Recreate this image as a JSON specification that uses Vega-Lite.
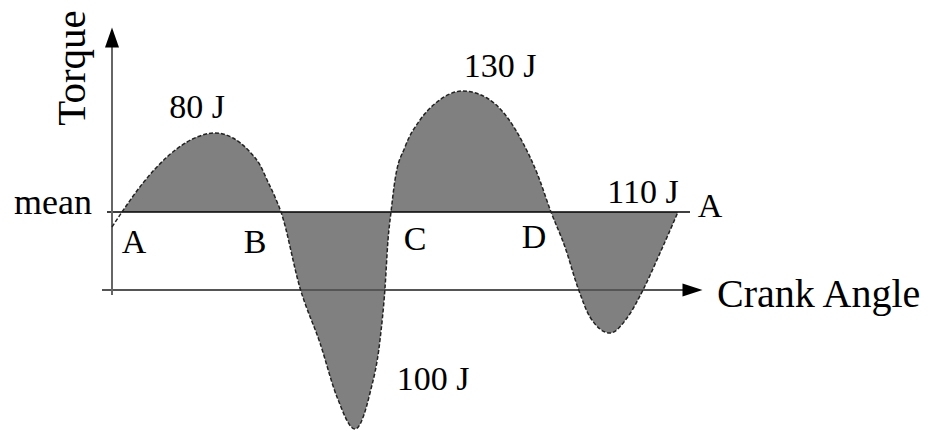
{
  "$schema": "https://vega.github.io/schema/vega-lite/v6.json",
  "width": 929,
  "height": 432,
  "padding": 0,
  "autosize": {"type": "none"},
  "background": "white",
  "config": {"view": {"stroke": null}, "text": {"font": "'Liberation Serif', 'Times New Roman', Times, serif"}},
  "datasets": {
    "curve": [
      {"angle": 0, "torque": 63},
      {"angle": 10, "torque": 78},
      {"angle": 31, "torque": 107},
      {"angle": 55, "torque": 133},
      {"angle": 75, "torque": 148},
      {"angle": 103, "torque": 157},
      {"angle": 121, "torque": 152},
      {"angle": 138, "torque": 138},
      {"angle": 148, "torque": 125},
      {"angle": 156, "torque": 108},
      {"angle": 163, "torque": 93},
      {"angle": 169, "torque": 78},
      {"angle": 188, "torque": 2},
      {"angle": 208, "torque": -53},
      {"angle": 225, "torque": -107},
      {"angle": 243, "torque": -139},
      {"angle": 258, "torque": -103},
      {"angle": 268, "torque": -50},
      {"angle": 273, "torque": 2},
      {"angle": 276, "torque": 50},
      {"angle": 279, "torque": 78},
      {"angle": 283, "torque": 110},
      {"angle": 293, "torque": 143},
      {"angle": 308, "torque": 170},
      {"angle": 325, "torque": 188},
      {"angle": 351, "torque": 199},
      {"angle": 375, "torque": 192},
      {"angle": 395, "torque": 173},
      {"angle": 411, "torque": 147},
      {"angle": 425, "torque": 117},
      {"angle": 439, "torque": 78},
      {"angle": 453, "torque": 43},
      {"angle": 466, "torque": 2},
      {"angle": 478, "torque": -27},
      {"angle": 498, "torque": -43},
      {"angle": 515, "torque": -28},
      {"angle": 531, "torque": 0},
      {"angle": 548, "torque": 37},
      {"angle": 566, "torque": 78}
    ],
    "labels": [
      {"text": "80 J", "angle": 85, "torque": 172},
      {"text": "130 J", "angle": 388, "torque": 213},
      {"text": "100 J", "angle": 321, "torque": -100},
      {"text": "110 J", "angle": 531, "torque": 87},
      {"text": "A", "angle": 22, "torque": 37},
      {"text": "B", "angle": 143, "torque": 37},
      {"text": "C", "angle": 303, "torque": 40},
      {"text": "D", "angle": 422, "torque": 42},
      {"text": "A", "angle": 598, "torque": 73}
    ]
  },
  "layer": [
    {
      "data": {"name": "curve"},
      "transform": [{"filter": "datum.angle >= 10"}],
      "mark": {"type": "area", "interpolate": "monotone", "color": "#808080", "opacity": 1},
      "encoding": {
        "x": {"field": "angle", "type": "quantitative", "scale": {"domain": [-112, 817], "nice": false, "zero": false}, "axis": null},
        "y": {"field": "torque", "type": "quantitative", "scale": {"domain": [-142, 290], "nice": false, "zero": false}, "axis": null},
        "y2": {"datum": 78}
      }
    },
    {
      "data": {"values": [{"x1": -5, "x2": 578, "y": 78}]},
      "mark": {"type": "rule", "color": "black", "strokeWidth": 1.5},
      "encoding": {
        "x": {"field": "x1", "type": "quantitative"},
        "x2": {"field": "x2"},
        "y": {"field": "y", "type": "quantitative"}
      }
    },
    {
      "data": {"values": [{"x1": -10, "x2": 575, "y": 0}]},
      "mark": {"type": "rule", "color": "#555555", "strokeWidth": 2},
      "encoding": {
        "x": {"field": "x1", "type": "quantitative"},
        "x2": {"field": "x2"},
        "y": {"field": "y", "type": "quantitative"}
      }
    },
    {
      "data": {"values": [{"x": 0, "y1": -5, "y2": 246}]},
      "mark": {"type": "rule", "color": "#666666", "strokeWidth": 2},
      "encoding": {
        "x": {"field": "x", "type": "quantitative"},
        "y": {"field": "y1", "type": "quantitative"},
        "y2": {"field": "y2"}
      }
    },
    {
      "data": {"values": [{"x": 0, "y": 252.5}]},
      "mark": {"type": "point", "shape": "M0,-1L0.7,1L-0.7,1Z", "size": 400, "filled": true, "color": "black", "opacity": 1},
      "encoding": {
        "x": {"field": "x", "type": "quantitative"},
        "y": {"field": "y", "type": "quantitative"}
      }
    },
    {
      "data": {"values": [{"x": 580.5, "y": 0}]},
      "mark": {"type": "point", "shape": "M1,0L-1,-0.65L-1,0.65Z", "size": 400, "filled": true, "color": "black", "opacity": 1},
      "encoding": {
        "x": {"field": "x", "type": "quantitative"},
        "y": {"field": "y", "type": "quantitative"}
      }
    },
    {
      "data": {"name": "curve"},
      "mark": {"type": "line", "interpolate": "monotone", "color": "#222222", "strokeWidth": 1.5, "strokeDash": [4, 2]},
      "encoding": {
        "x": {"field": "angle", "type": "quantitative"},
        "y": {"field": "torque", "type": "quantitative"}
      }
    },
    {
      "data": {"name": "labels"},
      "mark": {"type": "text", "fontSize": 34, "align": "center", "baseline": "alphabetic", "color": "black"},
      "encoding": {
        "x": {"field": "angle", "type": "quantitative"},
        "y": {"field": "torque", "type": "quantitative"},
        "text": {"field": "text"}
      }
    },
    {
      "data": {"values": [{"text": "mean", "angle": -20, "torque": 76}]},
      "mark": {"type": "text", "fontSize": 36, "align": "right", "baseline": "alphabetic", "color": "black"},
      "encoding": {
        "x": {"field": "angle", "type": "quantitative"},
        "y": {"field": "torque", "type": "quantitative"},
        "text": {"field": "text"}
      }
    },
    {
      "data": {"values": [{"text": "Crank Angle", "angle": 605, "torque": -17}]},
      "mark": {"type": "text", "fontSize": 40, "align": "left", "baseline": "alphabetic", "color": "black"},
      "encoding": {
        "x": {"field": "angle", "type": "quantitative"},
        "y": {"field": "torque", "type": "quantitative"},
        "text": {"field": "text"}
      }
    },
    {
      "data": {"values": [{"text": "Torque", "angle": -27, "torque": 222}]},
      "mark": {"type": "text", "fontSize": 41, "align": "center", "baseline": "alphabetic", "angle": 270, "color": "black"},
      "encoding": {
        "x": {"field": "angle", "type": "quantitative"},
        "y": {"field": "torque", "type": "quantitative"},
        "text": {"field": "text"}
      }
    }
  ]
}
